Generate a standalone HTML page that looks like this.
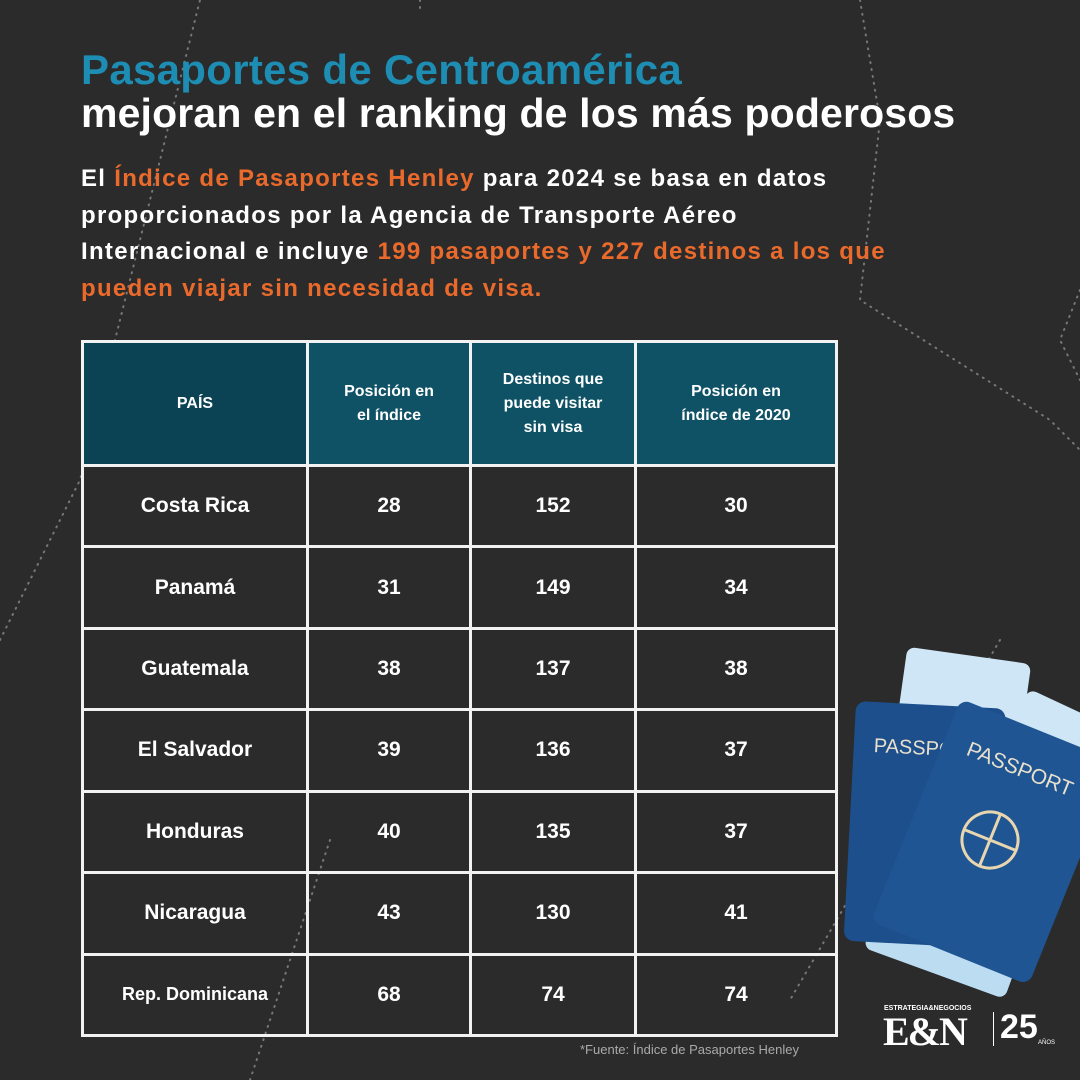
<!DOCTYPE html>
<html><head><meta charset="utf-8"><style>
*{margin:0;padding:0;box-sizing:border-box}
body{width:1080px;height:1080px;background:#2b2b2b;position:relative;overflow:hidden;font-family:"Liberation Sans","DejaVu Sans",sans-serif;color:#fff}
.t1{position:absolute;left:81px;top:46px;font-size:42px;font-weight:bold;color:#1d8db3;letter-spacing:0.3px}
.t2{position:absolute;left:81px;top:90px;font-size:41px;font-weight:bold;color:#fff;letter-spacing:0.15px}
.p{position:absolute;left:81px;top:161px;width:900px;font-size:24px;font-weight:bold;line-height:36.5px;color:#fff;white-space:nowrap;letter-spacing:1.3px}
.o{color:#ea6a2c}
table{position:absolute;left:81px;top:340px;width:754px;height:697px;border-collapse:collapse;table-layout:fixed}
td{border:3px solid #f2f2f2;text-align:center;font-weight:bold;font-size:21px}
th{border:3px solid #f2f2f2;background:#0f5266;font-size:16px;font-weight:bold;line-height:24px;height:124px}
th.f{background:#0b4355}
.fn{position:absolute;left:580px;top:1042px;font-size:13px;color:#aaa}
</style></head><body>
<svg width="1080" height="1080" style="position:absolute;left:0;top:0">
<g stroke="#777" stroke-width="2" stroke-dasharray="1 6" fill="none" stroke-linecap="round">
<polyline points="0,640 80,480 200,0"/>
<polyline points="420,0 420,10"/>
<polyline points="860,0 880,120 860,300 1050,420 1080,450"/>
<polyline points="1080,290 1060,340 1080,380"/>
<polyline points="250,1080 330,840"/>
<polyline points="1000,640 790,1000"/>
</g></svg>
<div class="t1">Pasaportes de Centroamérica</div>
<div class="t2">mejoran en el ranking de los más poderosos</div>
<div class="p">El <span class="o">Índice de Pasaportes Henley</span> para 2024 se basa en datos<br>proporcionados por la Agencia de Transporte Aéreo<br>Internacional e incluye <span class="o">199 pasaportes y 227 destinos a los que<br>pueden viajar sin necesidad de visa.</span></div>
<table>
<colgroup><col style="width:225px"><col style="width:163px"><col style="width:165px"><col style="width:201px"></colgroup>
<tr><th class="f">PAÍS</th><th>Posición en<br>el índice</th><th>Destinos que<br>puede visitar<br>sin visa</th><th>Posición en<br>índice de 2020</th></tr>
<tr><td>Costa Rica</td><td>28</td><td>152</td><td>30</td></tr>
<tr><td>Panamá</td><td>31</td><td>149</td><td>34</td></tr>
<tr><td>Guatemala</td><td>38</td><td>137</td><td>38</td></tr>
<tr><td>El Salvador</td><td>39</td><td>136</td><td>37</td></tr>
<tr><td>Honduras</td><td>40</td><td>135</td><td>37</td></tr>
<tr><td>Nicaragua</td><td>43</td><td>130</td><td>41</td></tr>
<tr><td style="font-size:18px">Rep. Dominicana</td><td>68</td><td>74</td><td>74</td></tr>
</table>
<div class="fn">*Fuente: Índice de Pasaportes Henley</div>
<svg width="240" height="360" style="position:absolute;left:840px;top:640px">
<g transform="rotate(8 120 100)"><rect x="55" y="15" width="125" height="120" rx="8" fill="#cfe6f7"/></g>
<g transform="rotate(25 200 120)"><rect x="160" y="60" width="90" height="130" rx="8" fill="#cfe6f7"/></g>
<g transform="rotate(20 90 300)"><rect x="30" y="250" width="150" height="80" rx="8" fill="#bcdcf2"/></g>
<g transform="rotate(3 90 180)"><rect x="10" y="65" width="150" height="240" rx="10" fill="#1d4f8c"/>
<text x="30" y="115" font-size="20" fill="#e8e0cc" font-family="Liberation Sans">PASSPO</text></g>
<g transform="rotate(22 150 200)"><rect x="70" y="80" width="170" height="240" rx="10" fill="#1f5593"/>
<text x="95" y="130" font-size="21" fill="#e8e0cc" font-family="Liberation Sans">PASSPORT</text>
<circle cx="150" cy="200" r="28" fill="none" stroke="#e8d6b0" stroke-width="3"/>
<line x1="122" y1="200" x2="178" y2="200" stroke="#e8d6b0" stroke-width="3"/>
<line x1="150" y1="172" x2="150" y2="228" stroke="#e8d6b0" stroke-width="3"/></g>
</svg>
<div style="position:absolute;left:884px;top:1005px;font-size:7px;font-weight:bold">ESTRATEGIA&amp;NEGOCIOS</div>
<div style="position:absolute;left:883px;top:1008px;font-family:'Liberation Serif',serif;font-size:40px;font-weight:bold;letter-spacing:-2px">E&amp;N</div>
<div style="position:absolute;left:993px;top:1012px;width:1px;height:34px;background:#fff"></div>
<div style="position:absolute;left:1000px;top:1008px;font-size:34px;font-weight:bold">25</div>
<div style="position:absolute;left:1038px;top:1040px;font-size:6px">AÑOS</div>
</body></html>
